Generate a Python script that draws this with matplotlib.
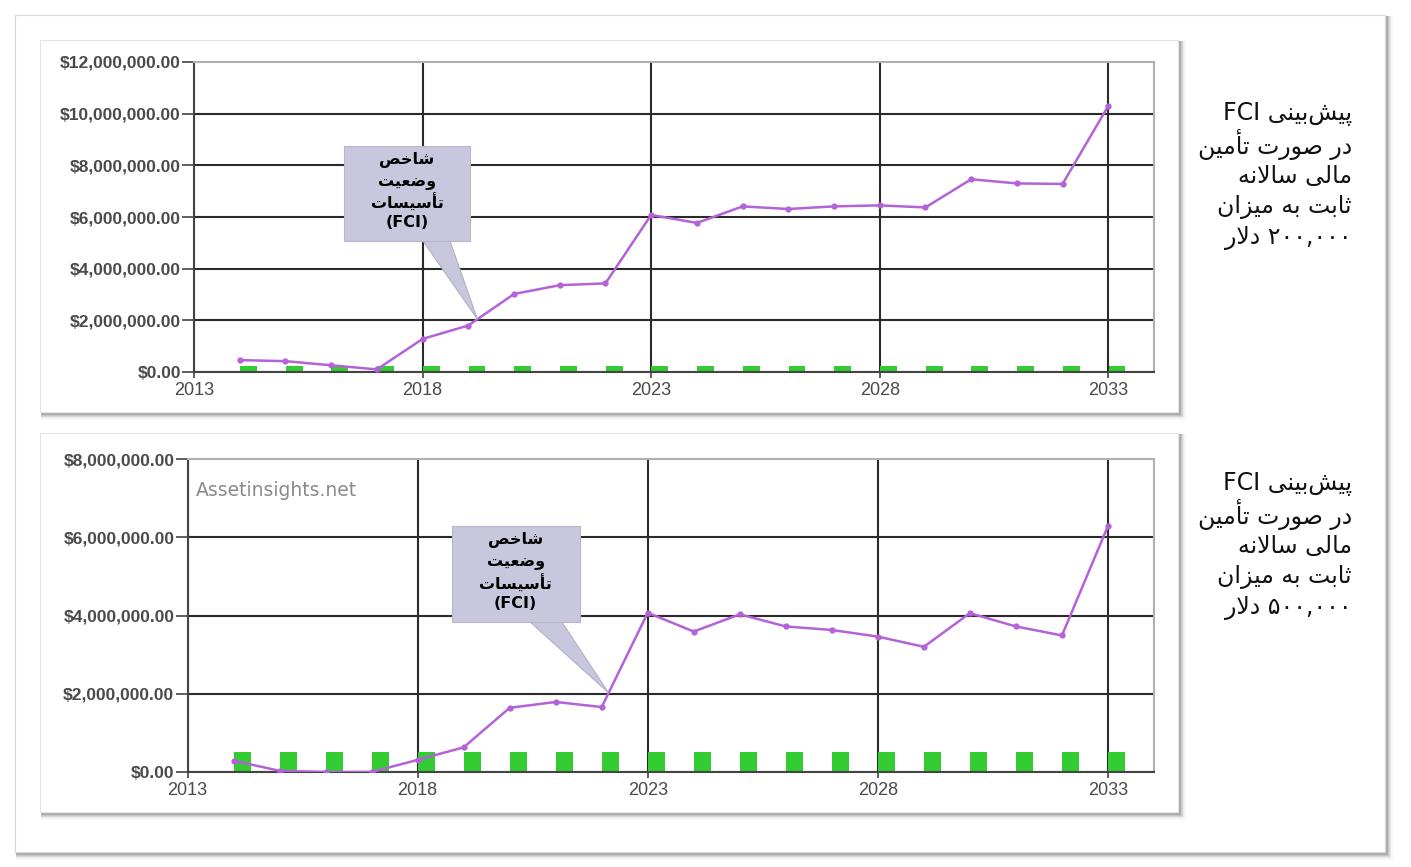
import numpy as np
import matplotlib
matplotlib.use("Agg")
import matplotlib.pyplot as plt
from matplotlib.patches import Rectangle, Polygon
from matplotlib.ticker import FuncFormatter

# ---- data ----
years = np.arange(2014, 2034)
fci_200k = [0.46, 0.42, 0.26, 0.10, 1.28, 1.80, 3.02, 3.36, 3.43, 6.08,
            5.77, 6.41, 6.31, 6.41, 6.45, 6.37, 7.46, 7.30, 7.28, 10.30]
fci_500k = [0.29, 0.03, 0.00, 0.00, 0.31, 0.63, 1.64, 1.79, 1.66, 4.07,
            3.59, 4.03, 3.72, 3.63, 3.46, 3.20, 4.06, 3.72, 3.49, 6.29]
funding_200k = 0.25   # million $ per year (bar height as drawn)
funding_500k = 0.5
x_ticks = [2013, 2018, 2023, 2028, 2033]
callout_lines = ["شاخص", "وضعیت", "تأسیسات", "(FCI)"]
amount_200k = "۲۰۰,۰۰۰"
amount_500k = "۵۰۰,۰۰۰"
side_common = ["پیش‌بینی FCI", "در صورت تأمین", "مالی سالانه", "ثابت به میزان"]
side_200k = side_common + [amount_200k + " " + "دلار"]
side_500k = side_common + [amount_500k + " " + "دلار"]

# ---- minimal Persian shaping (matplotlib has no bidi / joining) ----
FORMS = {  # isolated, final, initial, medial
    "ا": ("\uFE8D", "\uFE8E", None, None),
    "أ": ("\uFE83", "\uFE84", None, None),
    "ب": ("\uFE8F", "\uFE90", "\uFE91", "\uFE92"),
    "پ": ("\uFB56", "\uFB57", "\uFB58", "\uFB59"),
    "ت": ("\uFE95", "\uFE96", "\uFE97", "\uFE98"),
    "ث": ("\uFE99", "\uFE9A", "\uFE9B", "\uFE9C"),
    "خ": ("\uFEA5", "\uFEA6", "\uFEA7", "\uFEA8"),
    "د": ("\uFEA9", "\uFEAA", None, None),
    "ر": ("\uFEAD", "\uFEAE", None, None),
    "ز": ("\uFEAF", "\uFEB0", None, None),
    "س": ("\uFEB1", "\uFEB2", "\uFEB3", "\uFEB4"),
    "ش": ("\uFEB5", "\uFEB6", "\uFEB7", "\uFEB8"),
    "ص": ("\uFEB9", "\uFEBA", "\uFEBB", "\uFEBC"),
    "ض": ("\uFEBD", "\uFEBE", "\uFEBF", "\uFEC0"),
    "ع": ("\uFEC9", "\uFECA", "\uFECB", "\uFECC"),
    "ل": ("\uFEDD", "\uFEDE", "\uFEDF", "\uFEE0"),
    "م": ("\uFEE1", "\uFEE2", "\uFEE3", "\uFEE4"),
    "ن": ("\uFEE5", "\uFEE6", "\uFEE7", "\uFEE8"),
    "ه": ("\uFEE9", "\uFEEA", "\uFEEB", "\uFEEC"),
    "و": ("\uFEED", "\uFEEE", None, None),
    "ی": ("\uFBFC", "\uFBFD", "\uFBFE", "\uFBFF"),
}
LAM_ALEF = {"ا": ("\uFEFB", "\uFEFC"), "أ": ("\uFEF7", "\uFEF8")}


def shape_word(word):
    chars = list(word)
    out, prev_joins, i = [], False, 0
    while i < len(chars):
        c = chars[i]
        if c not in FORMS:
            if c != "\u200c":
                out.append(c)
            prev_joins = False
            i += 1
            continue
        if c == "ل" and i + 1 < len(chars) and chars[i + 1] in LAM_ALEF:
            iso, fin = LAM_ALEF[chars[i + 1]]
            out.append(fin if prev_joins else iso)
            prev_joins = False
            i += 2
            continue
        iso, fin, ini, med = FORMS[c]
        nxt = chars[i + 1] if i + 1 < len(chars) else None
        next_joins = ini is not None and nxt in FORMS
        if prev_joins and next_joins:
            out.append(med)
        elif prev_joins:
            out.append(fin)
        elif next_joins:
            out.append(ini)
        else:
            out.append(iso)
        prev_joins = next_joins
        i += 1
    return "".join(out)


def fa(line):
    """logical RTL line -> visual string for matplotlib"""
    words = []
    for w in line.split(" "):
        if any(ch in FORMS for ch in w):
            words.append(shape_word(w)[::-1])
        else:
            words.append(w)
    return " ".join(words[::-1])


W, H = 1411, 867
fig = plt.figure(figsize=(W / 100, H / 100), dpi=100)
fig.patch.set_facecolor("white")

# background layer in pixel coordinates for frames / card shadows
bg = fig.add_axes([0, 0, 1, 1], zorder=-10)
bg.set_xlim(0, W); bg.set_ylim(H, 0); bg.axis("off")


def card(x0, y0, x1, y1, ec="#e4e4e4"):
    for k, a in zip([7, 5, 4, 3, 2], [0.03, 0.05, 0.07, 0.09, 0.12]):
        bg.add_patch(Rectangle((x0 + 1, y0 + 1), x1 - x0 + k, y1 - y0 + k,
                               fc="black", alpha=a, lw=0))
    bg.add_patch(Rectangle((x0, y0), x1 - x0, y1 - y0, fc="white", ec=ec, lw=0.8))


card(15, 15, 1385, 852, ec="#d8d8d8")
card(40, 40, 1178, 412)
card(40, 433, 1178, 812)

PURPLE = "#b462d8"
GREEN = "#33cc33"
BOX = "#c9c7dd"


def money(v, pos):
    return f"${v * 1e6:,.2f}"


def draw_panel(rect, values, funding, ymax, tip_x, box, tail):
    ax = fig.add_axes(rect)
    ax.bar(years + 0.19, [funding] * len(years), width=0.37, color=GREEN, zorder=2)
    ax.plot(years, values, "-o", color=PURPLE, lw=1.8, ms=3.5, zorder=3)
    ax.set_xlim(2013, 2034)
    ax.set_ylim(0, ymax)
    ax.set_xticks(x_ticks)
    ax.set_yticks(np.arange(0, ymax + 0.1, 2))
    ax.yaxis.set_major_formatter(FuncFormatter(money))
    ax.set_axisbelow(True)
    ax.grid(True, color="#2a2a2a", lw=1.5)
    ax.yaxis.get_gridlines()[-1].set_visible(False)
    for s in ("top", "right"):
        ax.spines[s].set_color("#b0b0b0"); ax.spines[s].set_linewidth(1.5)
    for s in ("left", "bottom"):
        ax.spines[s].set_color("#444444"); ax.spines[s].set_linewidth(1.5)
    ax.tick_params(axis="y", length=8.5, width=1.2, color="#444444", pad=1,
                   labelsize=12.5, labelcolor="#4a4a4a")
    ax.tick_params(axis="x", length=4, width=1.2, color="#444444", pad=3,
                   labelsize=13, labelcolor="#4a4a4a")
    for lab in ax.get_yticklabels():
        lab.set_fontweight("bold"); lab.set_family("Liberation Sans")
    for lab in ax.get_xticklabels():
        lab.set_family("Liberation Sans")

    # callout box pointing to the line
    tip_y = np.interp(tip_x, years, values)
    bx0, by0, bx1, by1 = box
    ax.add_patch(Polygon([(tail[0], by0), (tail[1], by0), (tip_x, tip_y)],
                         closed=True, fc=BOX, ec="#b2b0c6", lw=0.8, zorder=5))
    ax.add_patch(Rectangle((bx0, by0), bx1 - bx0, by1 - by0, fc=BOX, ec="#b8b6cc",
                           lw=0.8, zorder=6))
    cx = (bx0 + bx1) / 2
    for frac, line in zip([0.15, 0.38, 0.6, 0.81], callout_lines):
        ax.text(cx, by1 - frac * (by1 - by0), fa(line), ha="center", va="center",
                fontsize=11.5, fontweight="bold", color="black", zorder=7,
                family=["DejaVu Sans"])
    return ax


ax1 = draw_panel([194 / W, 1 - 372 / H, (1154 - 194) / W, (372 - 62) / H],
                 fci_200k, funding_200k, 12, 2019.2,
                 (2016.28, 5.07, 2019.04, 8.75), (2018.01, 2018.6))
ax2 = draw_panel([187.5 / W, 1 - 772 / H, (1154 - 187.5) / W, (772 - 459) / H],
                 fci_500k, funding_500k, 8, 2022.15,
                 (2018.74, 3.84, 2021.52, 6.29), (2020.44, 2021.13))
ax2.text(0.009, 0.9, "Assetinsights.net", transform=ax2.transAxes, fontsize=13.5,
         color="#8a8a8a", ha="left", va="center", family="DejaVu Sans", zorder=4)

# side notes
for y0, lines in ((114, side_200k), (484, side_500k)):
    for i, line in enumerate(lines):
        fig.text(1352 / W, 1 - (y0 + i * 31) / H, fa(line), ha="right", va="center",
                 fontsize=17, color="#111111", family=["DejaVu Sans"])

fig.savefig("out.png", dpi=100)
